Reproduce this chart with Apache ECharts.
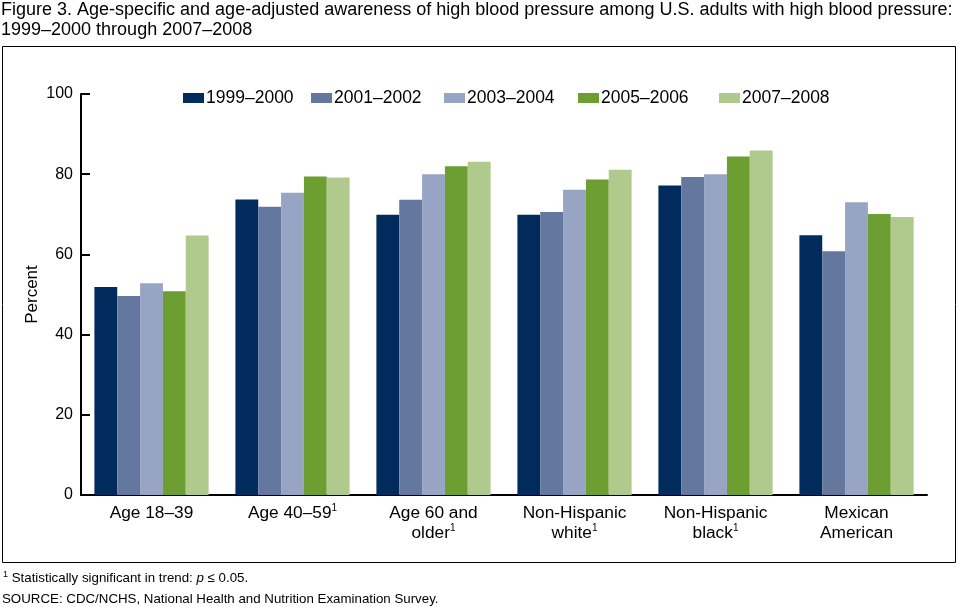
<!DOCTYPE html>
<html><head><meta charset="utf-8">
<script src="https://cdn.jsdelivr.net/npm/echarts@6/dist/echarts.min.js"></script>
<style>html,body{margin:0;padding:0;background:#fff}#c{width:959px;height:607px}</style>
</head><body><div id="c"></div>
<script>
var categories = ["Age 18–39", "Age 40–59{sup|1}", "Age 60 and\nolder{sup|1}", "Non-Hispanic\nwhite{sup|1}", "Non-Hispanic\nblack{sup|1}", "Mexican\nAmerican"];
var seriesNames = ["1999–2000", "2001–2002", "2003–2004", "2005–2006", "2007–2008"];
var s1999 = [51.9, 73.7, 69.9, 69.9, 77.2, 64.8];
var s2001 = [49.6, 71.9, 73.6, 70.6, 79.3, 60.8];
var s2003 = [52.8, 75.4, 80.0, 76.1, 80.0, 73.0];
var s2005 = [50.8, 79.4, 82.0, 78.7, 84.4, 70.1];
var s2007 = [64.7, 79.2, 83.1, 81.1, 85.9, 69.3];
var yTicks = [0, 20, 40, 60, 80, 100];
var colors = ["#002B5C", "#64789F", "#97A4C3", "#6C9E32", "#B0C98C"];
var allData = [s1999, s2001, s2003, s2005, s2007];
var FONT = "Liberation Sans, Arial, sans-serif";
var legendLeft = [183, 311, 444, 578, 719];

var chart = echarts.init(document.getElementById('c'), null, {renderer: 'canvas'});
var series = seriesNames.map(function (n, i) {
  return {
    name: n, type: 'bar', data: allData[i], barGap: '0%', barCategoryGap: '19%',
    itemStyle: {color: colors[i]}, animation: false
  };
});
var legends = seriesNames.map(function (n, i) {
  return {
    data: [n], top: 89, left: legendLeft[i], itemWidth: 21, itemHeight: 10, padding: 0,
    textStyle: {fontFamily: FONT, fontSize: 17.5, color: '#000', padding: [0, 0, 0, -3]},
    icon: 'rect', selectedMode: false
  };
});
chart.setOption({
  animation: false,
  color: colors,
  title: {
    text: "Figure 3. Age-specific and age-adjusted awareness of high blood pressure among U.S. adults with high blood pressure:\n1999–2000 through 2007–2008",
    left: 1, top: 0, padding: 0,
    textStyle: {fontFamily: FONT, fontSize: 18, fontWeight: 'normal', color: '#000', lineHeight: 20}
  },
  legend: legends,
  grid: {left: 81, right: 32, top: 94, bottom: 112, containLabel: false},
  xAxis: {
    type: 'category', data: categories,
    axisLine: {lineStyle: {color: '#000', width: 2}},
    axisTick: {show: false},
    axisLabel: {
      fontFamily: FONT, fontSize: 17.3, color: '#000', lineHeight: 20, margin: 8, interval: 0,
      rich: {sup: {fontSize: 10, lineHeight: 20, verticalAlign: 'top', padding: [0, 0, 6, 0], fontFamily: FONT, color: '#000'}}
    }
  },
  yAxis: {
    type: 'value', min: yTicks[0], max: yTicks[yTicks.length - 1], interval: 20,
    name: 'Percent', nameLocation: 'middle', nameGap: 40, nameRotate: 90, nameMoveOverlap: false,
    nameTextStyle: {fontFamily: FONT, fontSize: 17, color: '#000'},
    axisLine: {show: true, lineStyle: {color: '#000', width: 2}},
    axisTick: {show: true, inside: true, length: 9, lineStyle: {color: '#000', width: 2}},
    splitLine: {show: false},
    axisLabel: {fontFamily: FONT, fontSize: 16, color: '#000', margin: 8}
  },
  graphic: [
    {type: 'rect', shape: {x: 2.5, y: 46.5, width: 953, height: 516}, style: {fill: 'none', stroke: '#000', lineWidth: 1}, silent: true, z: -1},
    {type: 'text', left: 3, top: 570, style: {rich: {s: {fontSize: 9, fontFamily: FONT, fill: '#000', verticalAlign: 'top', lineHeight: 16}, t: {fontSize: 13.3, fontFamily: FONT, fill: '#000', lineHeight: 16}, i: {fontSize: 13.3, fontFamily: FONT, fill: '#000', fontStyle: 'italic', lineHeight: 16}}, text: "{s|1}{t| Statistically significant in trend: }{i|p}{t| ≤ 0.05.}"}},
    {type: 'text', left: 2, top: 593, style: {text: "SOURCE: CDC/NCHS, National Health and Nutrition Examination Survey.", font: "13.3px " + FONT, fill: '#000'}}
  ],
  series: series
});
</script></body></html>
